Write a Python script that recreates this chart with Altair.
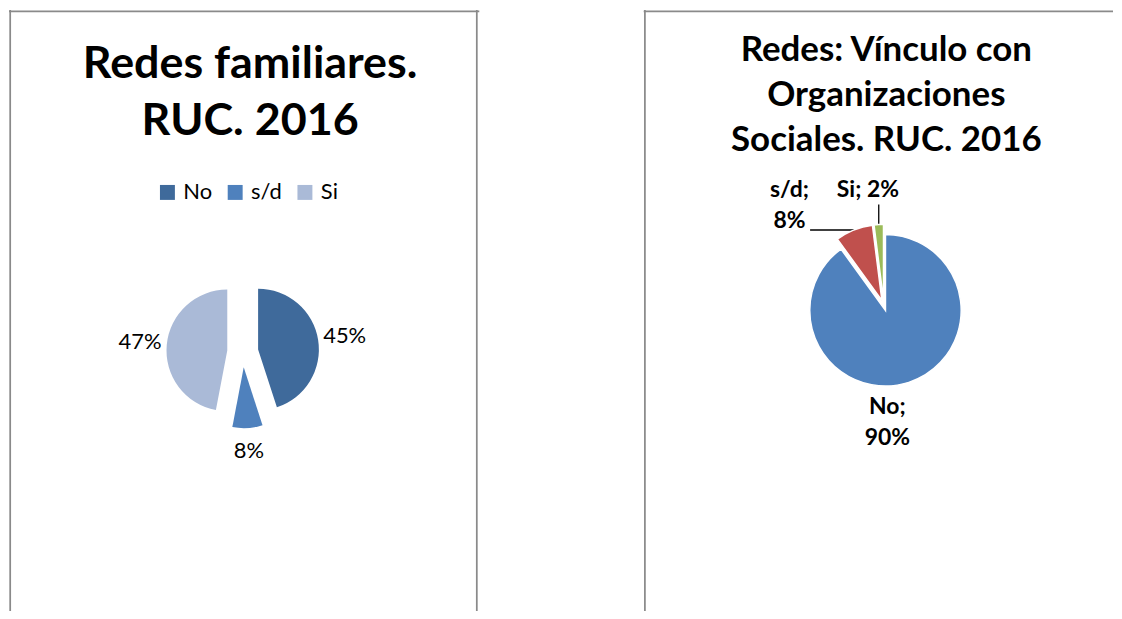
import altair as alt
import pandas as pd

# ---------------- data ----------------
categories = ["No", "s/d", "Si"]
familiares_pct = [45, 8, 47]
organizaciones_pct = [90, 8, 2]

title_familiares = ["Redes familiares.", "RUC. 2016"]
title_organizaciones = ["Redes: Vínculo con", "Organizaciones", "Sociales. RUC. 2016"]

# ---------------- style / layout ----------------
colors_familiares = ["#3F6A9B", "#4F81BD", "#AABAD7"]
colors_organizaciones = ["#4F81BD", "#C0504D", "#9BBB59"]
FONT = "Lato"
FRAME = "#8a8a8a"

LEFT_W, RIGHT_W, H = 472, 471, 603
SPACING = 163

# left pie
L_CX, L_CY, L_R, L_EXP = 234.6, 343.0, 61, 15.6
# right pie
R_CX, R_CY, R_R, R_EXP = 241.0, 296.3, 76, 5.3
# right-pie label placement (Excel "best fit"): offset of the first text line from the pie centre
R_LABEL_DX = {"No": 3.5, "s/d": -94.7, "Si": -16.0}
R_LABEL_DY = {"No": 102.3, "s/d": -115.6, "Si": -115.6}
R_SINGLE_LINE = ["Si"]

one_row = pd.DataFrame({"k": [0]})


def pie_base(values, cx, cy, explode, extra=None):
    cols = {"category": categories, "value": values,
            "order": list(range(len(categories)))}
    if extra:
        cols.update(extra)
    df = pd.DataFrame(cols)
    return (
        alt.Chart(df)
        .transform_joinaggregate(total="sum(value)")
        .transform_window(cum="sum(value)", sort=[alt.SortField("order")], frame=[None, 0])
        .transform_calculate(
            a0="2*PI*(datum.cum - datum.value)/datum.total",
            a1="2*PI*datum.cum/datum.total",
            pct="datum.value/datum.total",
        )
        .transform_calculate(mid="(datum.a0 + datum.a1)/2")
        .transform_calculate(
            px=f"{cx} + {explode}*sin(datum.mid)",
            py=f"{cy} - {explode}*cos(datum.mid)",
        )
    )


def arcs(base, r, colors, legend, stroke=None):
    kw = dict(radius=r)
    if stroke:
        kw.update(stroke=stroke, strokeWidth=1.5)
    return base.mark_arc(**kw).encode(
        x=alt.X("px:Q", scale=None, stack=False),
        y=alt.Y("py:Q", scale=None, stack=False),
        theta=alt.Theta("a0:Q", scale=None, stack=False),
        theta2=alt.Theta2("a1:Q"),
        color=alt.Color("category:N", scale=alt.Scale(domain=categories, range=colors),
                        legend=legend),
    )


def title_text(lines, x, y, size, line_h):
    return alt.Chart(one_row).mark_text(
        font=FONT, fontWeight="bold", fontSize=size, color="black",
        align="center", baseline="alphabetic", lineHeight=line_h,
    ).encode(x=alt.value(x), y=alt.value(y), text=alt.value(lines))


def frame(width, right_side):
    top = alt.Chart(one_row).mark_rule(color=FRAME, strokeWidth=1.75).encode(
        x=alt.value(0), x2=alt.value(width), y=alt.value(1.2))
    left = alt.Chart(one_row).mark_rule(color=FRAME, strokeWidth=1.75).encode(
        x=alt.value(1.2), y=alt.value(0), y2=alt.value(H))
    parts = [top, left]
    if right_side:
        parts.append(alt.Chart(one_row).mark_rule(color=FRAME, strokeWidth=1.75).encode(
            x=alt.value(width - 2.5), y=alt.value(0), y2=alt.value(H)))
    return parts


# ---------------- left panel ----------------
lbase = pie_base(familiares_pct, L_CX, L_CY, L_EXP)
legend = alt.Legend(
    orient="none", legendX=148, legendY=172, direction="horizontal", title=None,
    symbolType="square", symbolSize=225, symbolStrokeWidth=0,
    labelFont=FONT, labelFontSize=22, labelColor="black",
    columnPadding=12, labelOffset=5, padding=0, gridAlign="none",
)
l_arcs = arcs(lbase, L_R, colors_familiares, legend)
l_labels = lbase.transform_calculate(
    rr=f"{L_R + L_EXP + 23} + 4*abs(sin(datum.mid))",
).transform_calculate(
    lx=f"{L_CX} + datum.rr*sin(datum.mid)",
    ly=f"{L_CY} - datum.rr*cos(datum.mid)",
    label="format(datum.pct, '.0%')",
).mark_text(font=FONT, fontSize=22, color="black", align="center", baseline="middle").encode(
    x=alt.X("lx:Q", scale=None, stack=False),
    y=alt.Y("ly:Q", scale=None, stack=False),
    text="label:N",
)
left = alt.layer(
    *frame(LEFT_W, True),
    title_text(title_familiares, 242, 76 - 8, 45, 57),
    l_arcs, l_labels,
).properties(width=LEFT_W, height=H)

# ---------------- right panel ----------------
rbase = pie_base(
    organizaciones_pct, R_CX, R_CY, R_EXP,
    extra={"ldx": [R_LABEL_DX[c] for c in categories],
           "ldy": [R_LABEL_DY[c] for c in categories]},
)
r_arcs = arcs(rbase, R_R, colors_organizaciones, None, stroke="white")
single = "[" + ",".join(f"'{c}'" for c in R_SINGLE_LINE) + "]"
r_labels = rbase.transform_calculate(
    lx=f"{R_CX} + datum.ldx",
    ly=f"{R_CY} + datum.ldy",
    label=f"datum.category + (indexof({single}, datum.category) >= 0 ? '; ' : ';\\n') + format(datum.pct, '.0%')",
).mark_text(
    font=FONT, fontSize=23, fontWeight="bold", color="black",
    align="center", baseline="middle", lineBreak="\n", lineHeight=31,
).encode(
    x=alt.X("lx:Q", scale=None, stack=False),
    y=alt.Y("ly:Q", scale=None, stack=False),
    text="label:N",
)
wpt = rbase.transform_calculate(
    wx=f"{R_CX} + {R_R + R_EXP}*sin(datum.mid)",
    wy=f"{R_CY} - {R_R + R_EXP}*cos(datum.mid)",
)
lead_sd = wpt.transform_filter("datum.category == 's/d'").mark_rule(
    color="black", strokeWidth=1.3).encode(
    x=alt.X("wx:Q", scale=None, stack=False), x2=alt.value(167),
    y=alt.Y("wy:Q", scale=None, stack=False))
lead_si = wpt.transform_filter("datum.category == 'Si'").mark_rule(
    color="black", strokeWidth=1.3).encode(
    x=alt.X("wx:Q", scale=None, stack=False),
    y=alt.Y("wy:Q", scale=None, stack=False), y2=alt.value(195))

right = alt.layer(
    *frame(RIGHT_W, False),
    title_text(title_organizaciones, 243.5, 51, 35, 45),
    lead_sd, lead_si, r_arcs, r_labels,
).properties(width=RIGHT_W, height=H)

chart = (
    alt.hconcat(left, right, spacing=SPACING)
    .resolve_scale(color="independent")
    .properties(padding=0, background="white")
    .configure_view(stroke=None)
)

chart.save("out.html", embed_options={"renderer": "svg", "actions": False})
